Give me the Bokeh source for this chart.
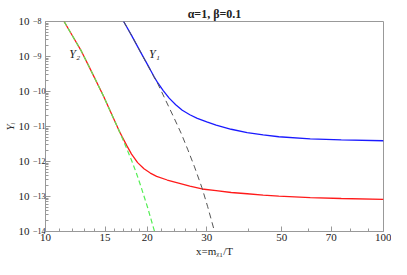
from bokeh.plotting import figure
from bokeh.models import FixedTicker, Range1d, LogAxis
from bokeh.embed import file_html
from bokeh.resources import INLINE
from bokeh.core.properties import value

# Y2 equilibrium (green dashed)
y2eq_x = [11.35, 12.0, 12.77, 13.5, 14.83, 15.60, 16.50, 17.21, 17.97, 18.55, 19.15, 20.04, 21.02]
y2eq_y = [1e-8, 3.97e-9, 1.42e-9, 4.82e-10, 7.55e-11, 2.55e-11, 7.64e-12, 2.98e-12, 1.08e-12, 4.82e-13, 1.95e-13, 4.94e-14, 1e-14]

# Y2 (red)
y2_x = [11.35, 12.0, 12.77, 13.5, 14.83, 15.60, 16.50, 16.86, 17.40, 17.97, 18.73, 19.56, 20.42, 21.32, 22.92,
        24.76, 26.73, 29.04, 31.98, 35.43, 39.5, 44.06, 49.0, 60.7, 74.98, 100.0]
y2_y = [1e-8, 3.97e-9, 1.42e-9, 4.82e-10, 7.55e-11, 2.55e-11, 7.64e-12, 5.07e-12, 2.85e-12, 1.63e-12, 9.27e-13,
        6.18e-13, 4.67e-13, 3.76e-13, 2.96e-13, 2.43e-13, 1.99e-13, 1.64e-13, 1.47e-13, 1.30e-13, 1.20e-13,
        1.10e-13, 1.03e-13, 9.33e-14, 8.77e-14, 8.24e-14]

# Y1 equilibrium (black dashed)
y1eq_x = [17.03, 17.97, 19.15, 20.42, 21.50, 22.48, 23.98, 25.23, 26.38, 27.60, 29.04, 30.19, 31.63]
y1eq_y = [1e-8, 4.02e-9, 1.29e-9, 4.07e-10, 1.65e-10, 6.67e-11, 1.80e-11, 6.22e-12, 2.15e-12, 7.01e-13, 1.77e-13, 5.09e-14, 1e-14]

# Y1 (blue)
y1_x = [17.03, 17.97, 19.15, 20.42, 20.96, 21.50, 22.30, 23.22, 24.28, 25.39, 26.73, 28.13, 30.0, 31.98, 35.43,
        39.5, 44.06, 49.0, 60.7, 74.98, 100.0]
y1_y = [1e-8, 4.02e-9, 1.29e-9, 4.2e-10, 2.63e-10, 1.75e-10, 1.06e-10, 6.45e-11, 4.18e-11, 2.92e-11, 2.17e-11,
        1.71e-11, 1.36e-11, 1.10e-11, 8.34e-12, 6.71e-12, 5.74e-12, 5.09e-12, 4.44e-12, 4.15e-12, 3.92e-12]

x_ticks = [10, 15, 20, 30, 50, 70, 100]
x_minor = [11, 12, 13, 14, 16, 17, 18, 19, 22, 24, 26, 28, 40, 60, 80, 90]
y_exps = [-14, -13, -12, -11, -10, -9, -8]
y_ticks = [10.0 ** e for e in y_exps]
y_minor = [k * 10.0 ** e for e in y_exps[:-1] for k in range(2, 10)]

FONT = "Liberation Serif"
AX = "#999999"
TXT = "#222222"

p = figure(width=391, height=259, x_axis_type="log", y_axis_type="log",
           x_range=Range1d(10, 100), y_range=Range1d(1e-14, 1e-8),
           output_backend="svg", toolbar_location=None,
           min_border_left=10, min_border_right=8, min_border_top=21, min_border_bottom=0)
p.title.text = "α=1, β=0.1"
p.title.align = "center"
p.title.text_font = FONT
p.title.text_font_size = "12px"
p.title.text_font_style = "bold"
p.title.text_color = TXT
p.title.standoff = 2
p.title.offset = 0
p.grid.visible = False
p.outline_line_color = AX
p.background_fill_color = "white"
p.border_fill_color = "white"

p.xaxis.ticker = FixedTicker(ticks=x_ticks, minor_ticks=x_minor)
p.xaxis.major_label_overrides = {t: str(t) for t in x_ticks}

# inner y axis: ticks + exponents (padded so they sit right after the mantissa)
NB = "\u00a0"
yax = p.yaxis[0]
yax.ticker = FixedTicker(ticks=y_ticks, minor_ticks=y_minor)
yax.major_label_overrides = {10.0 ** e: "−" + str(-e) + (NB * 2 if -e < 10 else "") for e in y_exps}
yax.major_label_text_font = FONT
yax.major_label_text_font_size = "8px"
yax.major_label_text_color = TXT
yax.major_label_text_baseline = "bottom"
yax.major_label_standoff = 0

for ax in (p.xaxis[0], yax):
    ax.axis_line_color = AX
    ax.major_tick_line_color = AX
    ax.minor_tick_line_color = AX
    ax.major_tick_in = 5
    ax.major_tick_out = 0
    ax.minor_tick_in = 3
    ax.minor_tick_out = 0

# outer y axis: mantissa "10" + axis label
yax2 = LogAxis(ticker=FixedTicker(ticks=y_ticks, minor_ticks=[]),
               major_label_overrides={10.0 ** e: "10" for e in y_exps},
               axis_line_color=None, major_tick_line_color=None, minor_tick_line_color=None,
               major_tick_in=0, major_tick_out=0, minor_tick_in=0, minor_tick_out=0,
               major_label_standoff=0, major_label_text_font=FONT,
               major_label_text_font_size="11px", major_label_text_color=TXT,
               axis_label="Yᵢ", axis_label_text_font=FONT, axis_label_text_font_size="11px",
               axis_label_text_font_style="italic", axis_label_text_color=TXT,
               axis_label_standoff=0)
p.add_layout(yax2, "left")

p.xaxis.major_label_text_font = FONT
p.xaxis.major_label_text_font_size = "11px"
p.xaxis.major_label_text_color = TXT
p.xaxis.major_label_standoff = 2
p.xaxis.axis_label = "x=mᵪ₁/T"
p.xaxis.axis_label_text_font = FONT
p.xaxis.axis_label_text_font_size = "11px"
p.xaxis.axis_label_text_color = TXT
p.xaxis.axis_label_standoff = 1
p.xaxis.axis_label_text_font_style = "normal"

p.line(y2_x, y2_y, line_color="#ff1a1a", line_width=1.3)
p.line(y1_x, y1_y, line_color="#1a1aff", line_width=1.3)
p.line(y2eq_x, y2eq_y, line_color="#55ee55", line_width=1.2, line_dash="5 3")
p.line(y1eq_x, y1eq_y, line_color="#555555", line_width=1.0, line_dash="6 4")

p.text(x=[12.2, 21.0], y=[10 ** -8.93, 10 ** -8.93], text=["Y₂", "Y₁"],
       text_font=value(FONT), text_font_size="12px", text_font_style="italic",
       text_align="center", text_baseline="middle", text_color=TXT)

open("out.html", "w").write(file_html(p, INLINE))
